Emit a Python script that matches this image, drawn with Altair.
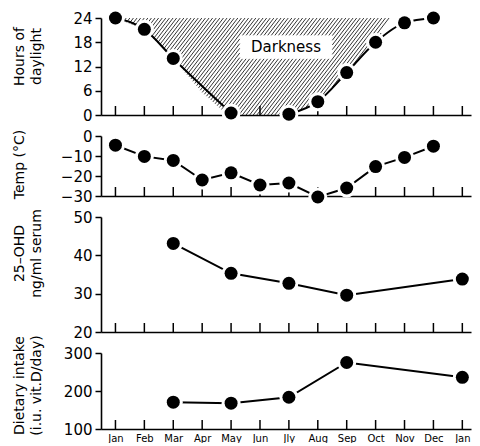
import json
import altair as alt
import numpy as np
import pandas as pd

# ---------------- data ----------------
months = ["Jan", "Feb", "Mar", "Apr", "May", "Jun", "Jly", "Aug", "Sep", "Oct", "Nov", "Dec", "Jan"]
month_pos = list(range(13))

# hours of daylight (dots)
day_m = [0, 1, 2, 4, 6, 7, 8, 9, 10, 11]
day_h = [24, 21.2, 14, 0.5, 0.2, 3.3, 10.5, 18, 22.8, 24]
day_seg = ["a", "a", "a", "a", "b", "b", "b", "b", "b", "b"]

# lower edge of the "Darkness" region
dark_m = [0, 1, 2, 2.5, 3, 3.5, 3.9, 6, 7, 8, 9, 9.5]
dark_h = [24, 21.2, 14, 9.8, 5.6, 2.4, 0, 0, 3.3, 10.5, 18, 24]
label_text = ["Darkness"]
label_m = [5.9]
label_h = [16.8]

# temperature
temp_m = list(range(12))
temp_c = [-4.6, -10.2, -12.2, -22, -18.4, -24.5, -23.5, -30.5, -26, -15.3, -10.7, -5.1]

# 25-OHD
ohd_m = [2, 4, 6, 8, 12]
ohd_v = [43.1, 35.3, 32.7, 29.6, 33.8]

# dietary intake
diet_m = [2, 4, 6, 8, 12]
diet_v = [170.5, 168, 183.5, 275, 236]

# ---------------- layout ----------------
FONT = "DejaVu Sans"
W = 370
H1, H2, H3, H4 = 97, 60, 115, 76
XDOM = [-0.5, 12.3]
xscale = alt.Scale(domain=XDOM, nice=False, zero=False)

def xaxis(last=False):
    if not last:
        return alt.Axis(labels=False, ticks=False, title=None, grid=False, domain=True)
    return alt.Axis(values=month_pos, labelExpr=json.dumps(months) + "[datum.value]",
                    ticks=False, title=None, grid=False, labelFontSize=10, labelPadding=4,
                    labelOverlap=False, labelFlush=False, labelBound=False)

def yaxis(values, title, ty):
    return alt.Axis(values=values, title=title, titleX=-89, titleY=ty, titleAngle=270,
                    titleAlign="center", titleBaseline="top", titleLineHeight=17, grid=False)

# ---------------- hatch for the darkness region ----------------
px_m = W / (XDOM[1] - XDOM[0])
px_h = H1 / 24.0
k = 1.3 * px_m / px_h
dc = 3.6 / px_m
xs = np.arange(0, dark_m[-1] + 1e-9, 0.002)
B = np.interp(xs, dark_m, dark_h)
bw, bh = 1.6, 2.9
segs = []
for c in np.arange(-24 / k, dark_m[-1] + dc, dc):
    yl = k * (xs - c)
    inbox = (np.abs(xs - label_m[0]) <= bw) & (np.abs(yl - label_h[0]) <= bh)
    mask = (yl >= B) & (yl <= 24) & (yl >= 0) & ~inbox
    if not mask.any():
        continue
    d = np.diff(np.concatenate([[0], mask.astype(int), [0]]))
    starts = np.where(d == 1)[0]
    ends = np.where(d == -1)[0] - 1
    for s, e in zip(starts, ends):
        if e > s:
            segs.append({"x": xs[s], "y": yl[s], "x2": xs[e], "y2": yl[e]})
hatch_df = pd.DataFrame(segs)

ticks_df = pd.DataFrame({"m": month_pos})

def inward_ticks(h, xa):
    return alt.Chart(ticks_df).mark_rule(color="black", strokeWidth=1.5).encode(
        x=alt.X("m:Q", scale=xscale, axis=xa), y=alt.value(h), y2=alt.value(h - 9))

def dots(df, xf, yf, ys, ya, xa):
    enc = dict(x=alt.X(xf + ":Q", scale=xscale, axis=xa), y=alt.Y(yf + ":Q", scale=ys, axis=ya))
    ring = alt.Chart(df).mark_point(shape="circle", filled=True, color="white", size=361,
                                    opacity=1, strokeWidth=0).encode(**enc)
    dot = alt.Chart(df).mark_point(shape="circle", filled=True, color="black", size=169,
                                   opacity=1, strokeWidth=0).encode(**enc)
    return [ring, dot]

# ---------------- panel 1 ----------------
ys1 = alt.Scale(domain=[0, 24], nice=False)
ya1 = yaxis([0, 6, 12, 18, 24], ["Hours of", "daylight"], 38)
xa1 = xaxis()
day_df = pd.DataFrame({"m": day_m, "h": day_h, "seg": day_seg})
lab_df = pd.DataFrame({"m": label_m, "h": label_h, "t": label_text})

hatch = alt.Chart(hatch_df).mark_rule(color="black", strokeWidth=0.8).encode(
    x=alt.X("x:Q", scale=xscale, axis=xa1), y=alt.Y("y:Q", scale=ys1, axis=ya1),
    x2="x2:Q", y2="y2:Q")
day_line = alt.Chart(day_df).mark_line(color="black", strokeWidth=2, interpolate="monotone").encode(
    x=alt.X("m:Q", scale=xscale, axis=xa1), y=alt.Y("h:Q", scale=ys1, axis=ya1), detail="seg:N")
label = alt.Chart(lab_df).mark_text(font=FONT, fontSize=15, color="black").encode(
    x=alt.X("m:Q", scale=xscale, axis=xa1), y=alt.Y("h:Q", scale=ys1, axis=ya1), text="t:N")
p1 = alt.layer(hatch, day_line, inward_ticks(H1, xa1), *dots(day_df, "m", "h", ys1, ya1, xa1),
               label).properties(width=W, height=H1)

# ---------------- panel 2 ----------------
ys2 = alt.Scale(domain=[-30, 0], nice=False)
ya2 = yaxis([0, -10, -20, -30], "Temp (°C)", 28)
temp_df = pd.DataFrame({"m": temp_m, "c": temp_c})
t_line = alt.Chart(temp_df).mark_line(color="black", strokeWidth=2).encode(
    x=alt.X("m:Q", scale=xscale, axis=xa1), y=alt.Y("c:Q", scale=ys2, axis=ya2))
p2 = alt.layer(t_line, inward_ticks(H2, xa1), *dots(temp_df, "m", "c", ys2, ya2, xa1)).properties(
    width=W, height=H2)

# ---------------- panel 3 ----------------
ys3 = alt.Scale(domain=[20, 50], nice=False)
ya3 = yaxis([20, 30, 40, 50], ["25\u2013OHD", "ng/ml serum"], 36)
ohd_df = pd.DataFrame({"m": ohd_m, "v": ohd_v})
o_line = alt.Chart(ohd_df).mark_line(color="black", strokeWidth=2).encode(
    x=alt.X("m:Q", scale=xscale, axis=xa1), y=alt.Y("v:Q", scale=ys3, axis=ya3))
p3 = alt.layer(o_line, inward_ticks(H3, xa1), *dots(ohd_df, "m", "v", ys3, ya3, xa1)).properties(
    width=W, height=H3)

# ---------------- panel 4 ----------------
ys4 = alt.Scale(domain=[100, 300], nice=False)
ya4 = yaxis([100, 200, 300], ["Dietary intake", "(i.u. vit.D/day)"], 32)
xa4 = xaxis(last=True)
diet_df = pd.DataFrame({"m": diet_m, "v": diet_v})
d_line = alt.Chart(diet_df).mark_line(color="black", strokeWidth=2).encode(
    x=alt.X("m:Q", scale=xscale, axis=xa4), y=alt.Y("v:Q", scale=ys4, axis=ya4))
p4 = alt.layer(d_line, inward_ticks(H4, xa4), *dots(diet_df, "m", "v", ys4, ya4, xa4)).properties(
    width=W, height=H4)

chart = alt.vconcat(p1, p2, p3, p4, spacing=21, bounds="flush").properties(
    padding={"left": 4, "top": 0, "right": 0, "bottom": 0}, background="white"
).configure_view(stroke=None).configure_axis(
    domainColor="black", domainWidth=1.6, tickColor="black", tickWidth=1.5, tickSize=6,
    labelFont=FONT, labelFontSize=15, labelColor="black", labelPadding=3,
    titleFont=FONT, titleFontSize=14, titleFontWeight="normal", titleColor="black",
)

chart.save("out.html", embed_options={"renderer": "svg", "actions": False})
